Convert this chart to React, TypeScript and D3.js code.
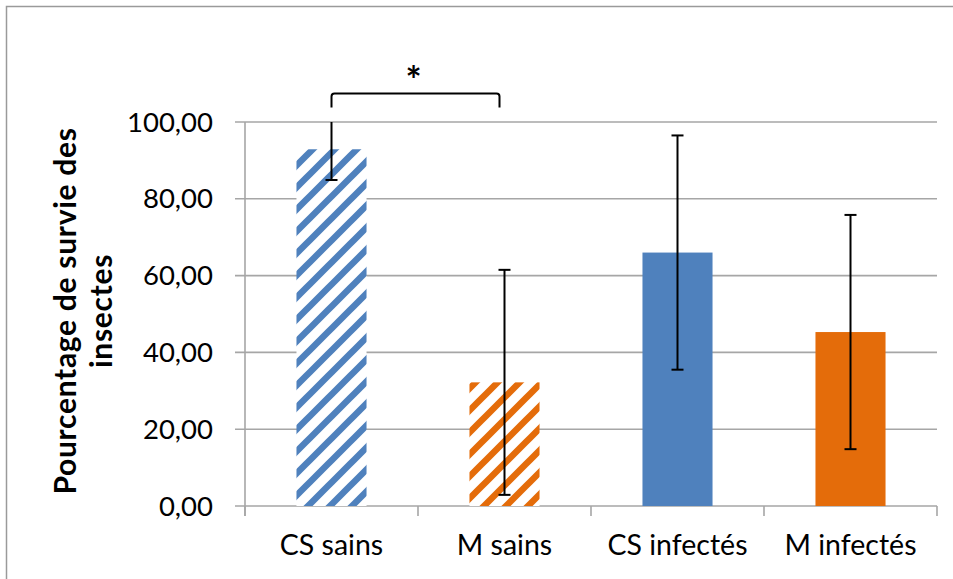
import React from "react";
import * as d3 from "d3";

const categories = ["CS sains", "M sains", "CS infectés", "M infectés"];
const values = [92.9, 32.2, 66.0, 45.3];
const errors = [8.0, 29.3, 30.5, 30.5];
const yTicks = [0, 20, 40, 60, 80, 100];
const colors = ["#4f81bd", "#e46c0a", "#4f81bd", "#e46c0a"];
const hatched = [true, true, false, false];
const yTitleLines = ["Pourcentage de survie des", "insectes"];
const sigPair = ["CS sains", "M sains"];
const sigLabel = "*";

export default function App() {
  const W = 953;
  const H = 579;
  const left = 245;
  const right = 937;
  const top = 122;
  const bottom = 506;

  const x = d3
    .scaleBand<string>()
    .domain(categories)
    .range([left, right])
    .paddingInner(0.595)
    .paddingOuter(0.2975);
  const y = d3.scaleLinear().domain([0, 100]).range([bottom, top]);
  const step = x.step();
  const bw = x.bandwidth();
  const fmt = (v: number) => d3.format(".2f")(v).replace(".", ",");
  const font = "Lato, 'Open Sans', sans-serif";

  const bx1 = (x(sigPair[0]) as number) + bw / 2;
  const bx2 = (x(sigPair[1]) as number) + bw / 2 - 5;
  const by = 93.5;

  return (
    <svg
      width={W}
      height={H}
      style={{ position: "absolute", left: 0, top: 0, background: "#fff" }}
      fontFamily={font}
    >
      <defs>
        {colors.map((c, i) => (
          <pattern
            key={i}
            id={`hatch-${i}`}
            patternUnits="userSpaceOnUse"
            width={22}
            height={22}
            x={0}
            y={0}
          >
            <rect width={22} height={22} fill="#fff" />
            <path
              d="M-5.5,5.5 L5.5,-5.5 M0,22 L22,0 M16.5,27.5 L27.5,16.5"
              stroke={c}
              strokeWidth={6.5}
            />
          </pattern>
        ))}
      </defs>
      <rect x={0} y={0} width={W} height={H} fill="#fff" />
      <rect x={6.5} y={6.5} width={1000} height={1000} fill="none" stroke="#9a9a9a" strokeWidth={1.5} />

      {/* gridlines + y ticks */}
      {yTicks.map((t) => (
        <g key={t}>
          <line x1={left - 10} x2={right} y1={y(t)} y2={y(t)} stroke="#a6a6a6" strokeWidth={1.6} />
          <text
            x={213}
            y={y(t) + 9.5}
            textAnchor="end"
            fontSize={27.5}
            fill="#000"
          >
            {fmt(t)}
          </text>
        </g>
      ))}
      {/* y axis line */}
      <line x1={left} x2={left} y1={top} y2={bottom + 10} stroke="#a6a6a6" strokeWidth={1.6} />
      {/* category ticks */}
      {d3.range(categories.length + 1).map((i) => (
        <line
          key={i}
          x1={left + i * step}
          x2={left + i * step}
          y1={bottom}
          y2={bottom + 10}
          stroke="#a6a6a6"
          strokeWidth={1.6}
        />
      ))}

      {/* bars */}
      {categories.map((c, i) => (
        <rect
          key={c}
          x={x(c)}
          y={y(values[i])}
          width={bw}
          height={bottom - y(values[i])}
          fill={hatched[i] ? `url(#hatch-${i})` : colors[i]}
        />
      ))}

      {/* error bars */}
      {categories.map((c, i) => {
        const cx = (x(c) as number) + bw / 2;
        const hi = values[i] + errors[i];
        const lo = values[i] - errors[i];
        const hiC = Math.min(hi, 100);
        const loC = Math.max(lo, 0);
        return (
          <g key={c} stroke="#000" strokeWidth={2}>
            <line x1={cx} x2={cx} y1={y(hiC)} y2={y(loC)} />
            {hi <= 100 && <line x1={cx - 6} x2={cx + 6} y1={y(hi)} y2={y(hi)} />}
            {lo >= 0 && <line x1={cx - 6} x2={cx + 6} y1={y(lo)} y2={y(lo)} />}
          </g>
        );
      })}

      {/* category labels */}
      {categories.map((c) => (
        <text
          key={c}
          x={(x(c) as number) + bw / 2}
          y={555}
          textAnchor="middle"
          fontSize={28.5}
          fill="#000"
        >
          {c}
        </text>
      ))}

      {/* y title */}
      {yTitleLines.map((l, i) => (
        <text
          key={i}
          transform={`translate(${76 + i * 36},${311}) rotate(-90)`}
          textAnchor="middle"
          fontSize={30}
          fontWeight="bold"
          letterSpacing={0.7}
          fill="#000"
        >
          {l}
        </text>
      ))}

      {/* significance bracket */}
      <path
        d={`M${bx1},${by + 14} L${bx1},${by + 3} Q${bx1},${by} ${bx1 + 3},${by} L${bx2 - 3},${by} Q${bx2},${by} ${bx2},${by + 3} L${bx2},${by + 14}`}
        fill="none"
        stroke="#000"
        strokeWidth={2}
      />
      <text x={(bx1 + bx2) / 2 - 2} y={94} textAnchor="middle" fontSize={38} fontWeight="bold" fill="#000">
        {sigLabel}
      </text>
    </svg>
  );
}
